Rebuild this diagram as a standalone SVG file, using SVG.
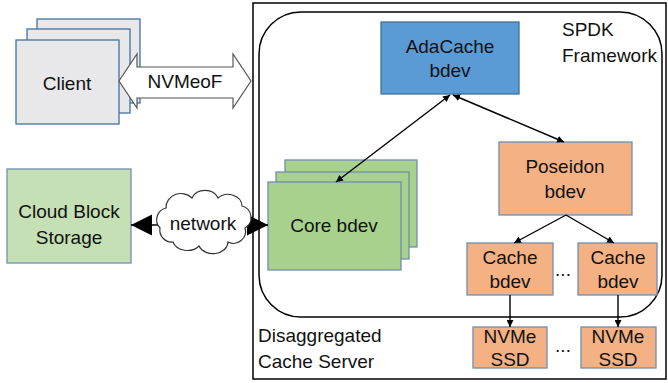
<svg xmlns="http://www.w3.org/2000/svg" width="668" height="383" viewBox="0 0 668 383">
<defs>
<style>
text{font-family:"Liberation Sans",Arial,sans-serif;font-size:19px;fill:#111;text-anchor:middle}
.lt{text-anchor:start}
.box{stroke:#6f8faf;stroke-width:1.3}
.gray{fill:#e8e8ea;stroke:#41719c}
.blue{fill:#5b9bd5;stroke:#41719c}
.or{fill:#f4b183}
.gr{fill:#a9d18e}
.lg{fill:#c5e0b4}
.con{stroke:#000;stroke-width:1.4;fill:none}
</style>
<marker id="a" viewBox="0 0 10 10" refX="10" refY="5" markerWidth="7" markerHeight="7" markerUnits="userSpaceOnUse" orient="auto-start-reverse"><path d="M0,0 L10,5 L0,10 z" fill="#000"/></marker>
<marker id="b" viewBox="0 0 10 10" refX="10" refY="5" markerWidth="21" markerHeight="22" markerUnits="userSpaceOnUse" orient="auto-start-reverse"><path d="M0,0 L10,5 L0,10 z" fill="#000"/></marker>
</defs>

<g id="server">
<rect x="253" y="3" width="413" height="376" fill="none" stroke="#000" stroke-width="1.5"/>
<text class="lt" x="258" y="342">Disaggregated</text>
<text class="lt" x="258" y="368">Cache Server</text>
</g>
<g id="spdk">
<rect x="259" y="12" width="403" height="305" rx="42" fill="none" stroke="#000" stroke-width="1.5"/>
<text class="lt" x="562" y="36">SPDK</text>
<text class="lt" x="562" y="62">Framework</text>
</g>

<g id="client">
<rect class="box gray" x="37" y="19" width="103" height="84"/>
<rect class="box gray" x="27" y="29" width="103" height="84"/>
<rect class="box gray" x="16" y="40" width="103" height="84"/>
<text x="67" y="90">Client</text>
</g>

<g id="cloudstorage">
<rect class="box lg" x="7" y="169" width="124" height="94"/>
<text x="69" y="218">Cloud Block</text>
<text x="69" y="244">Storage</text>
</g>

<g id="adacache">
<rect class="box blue" x="381" y="22" width="138" height="72"/>
<text x="450" y="53">AdaCache</text>
<text x="450" y="77">bdev</text>
</g>

<g id="core">
<rect class="box gr" x="285" y="160" width="132" height="87"/>
<rect class="box gr" x="276" y="172" width="133" height="87"/>
<rect class="box gr" x="268" y="182" width="133" height="88"/>
<text x="334" y="232">Core bdev</text>
</g>

<g id="poseidon">
<rect class="box or" x="499" y="142" width="133" height="73"/>
<text x="565" y="173">Poseidon</text>
<text x="565" y="198">bdev</text>
</g>

<g id="cache1">
<rect class="box or" x="467" y="243" width="86" height="52"/>
<text x="510" y="264">Cache</text>
<text x="510" y="288">bdev</text>
</g>
<g id="cache2">
<rect class="box or" x="578" y="243" width="79" height="52"/>
<text x="618" y="264">Cache</text>
<text x="618" y="288">bdev</text>
</g>
<text x="563" y="276">...</text>

<g id="ssd1">
<rect class="box or" x="473" y="327" width="74" height="41"/>
<text x="510" y="343">NVMe</text>
<text x="510" y="366">SSD</text>
</g>
<g id="ssd2">
<rect class="box or" x="581" y="327" width="75" height="41"/>
<text x="618" y="343">NVMe</text>
<text x="618" y="366">SSD</text>
</g>
<text x="563" y="352">...</text>

<g id="connectors">
<line class="con" x1="450" y1="95" x2="336" y2="182" marker-start="url(#a)" marker-end="url(#a)"/>
<line class="con" x1="453" y1="95" x2="564" y2="142" marker-start="url(#a)" marker-end="url(#a)"/>
<line class="con" x1="566" y1="215" x2="514" y2="243" marker-end="url(#a)"/>
<line class="con" x1="566" y1="215" x2="614" y2="243" marker-end="url(#a)"/>
<line class="con" x1="510" y1="295" x2="510" y2="327" marker-end="url(#a)"/>
<line class="con" x1="618" y1="295" x2="618" y2="327" marker-end="url(#a)"/>
<line class="con" x1="131" y1="225" x2="268" y2="225" marker-start="url(#b)" marker-end="url(#b)"/>
<polygon points="119,81 137,54 137,67 233,67 233,54 251,81 233,108 233,98 137,98 137,108" fill="#fff" stroke="#555" stroke-width="1.2"/>
<text x="185" y="88">NVMeoF</text>
</g>

<g id="network">
<path d="M160,228 a12,12 0 0 1 6,-20 a15,14 0 0 1 26,-10 a14,12 0 0 1 26,0 a14,12 0 0 1 24,8 a12,12 0 0 1 3,22 a12,12 0 0 1 -17,14 a15,12 0 0 1 -29,4 a15,12 0 0 1 -26,-4 a12,12 0 0 1 -13,-14 z" fill="#fff" stroke="#333" stroke-width="1.2"/>
<text x="203" y="230">network</text>
</g>
</svg>
